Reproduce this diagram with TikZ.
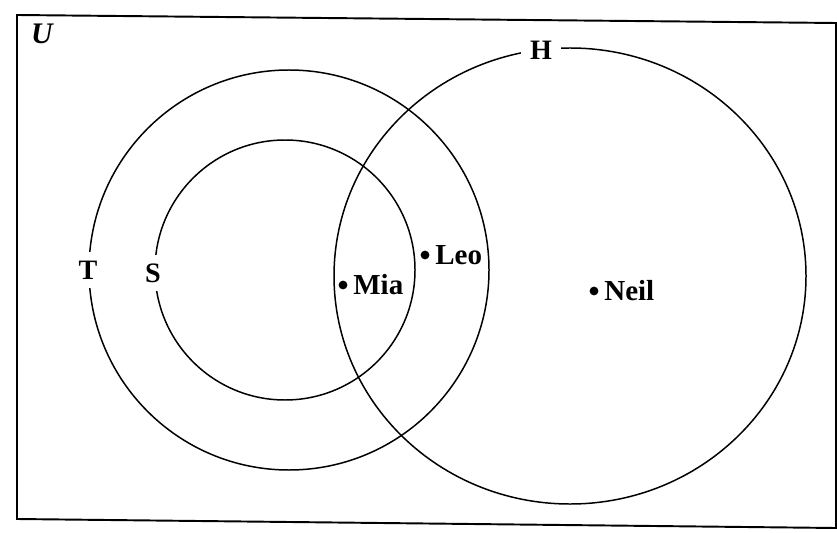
\documentclass[tikz,border=0pt]{standalone}
\usepackage{fontspec}
\setmainfont{Liberation Serif}
\begin{document}
\begin{tikzpicture}[x=0.02cm,y=-0.02cm,
  setline/.style={line width=0.85pt},
  lbl/.style={font=\fontsize{16}{18}\selectfont\bfseries, fill=white, inner sep=5pt},
  elem/.style={font=\fontsize{16.5}{18}\selectfont\bfseries, inner sep=1pt},
  dot/.style={circle, fill=black, inner sep=0pt, minimum size=5pt}]
\useasboundingbox (0,0) rectangle (837,533);
% universal set
\draw[line width=1.1pt] (17,15) -- (836,23) -- (836,528) -- (17,519) -- cycle;
\node[font=\fontsize{17}{19}\selectfont\bfseries\itshape] (U) at (42,34) {U};
% the three sets
\draw[setline] (289,270) circle (200);
\draw[setline] (285,270) circle (130);
\draw[setline] (570,276) ellipse (236 and 228);
\node[lbl] (T) at (88,270) {T};
\node[lbl] (S) at (153,273) {S};
\node[lbl] (H) at (541,50) {H};
% elements
\node[dot] (mia) at (343,285) {};\node[elem, right=2pt] at (mia.east) {Mia};
\node[dot] (leo) at (425,255) {};\node[elem, right=2pt] at (leo.east) {Leo};
\node[dot] (neil) at (594,291) {};\node[elem, right=2pt] at (neil.east) {Neil};
\end{tikzpicture}
\end{document}
